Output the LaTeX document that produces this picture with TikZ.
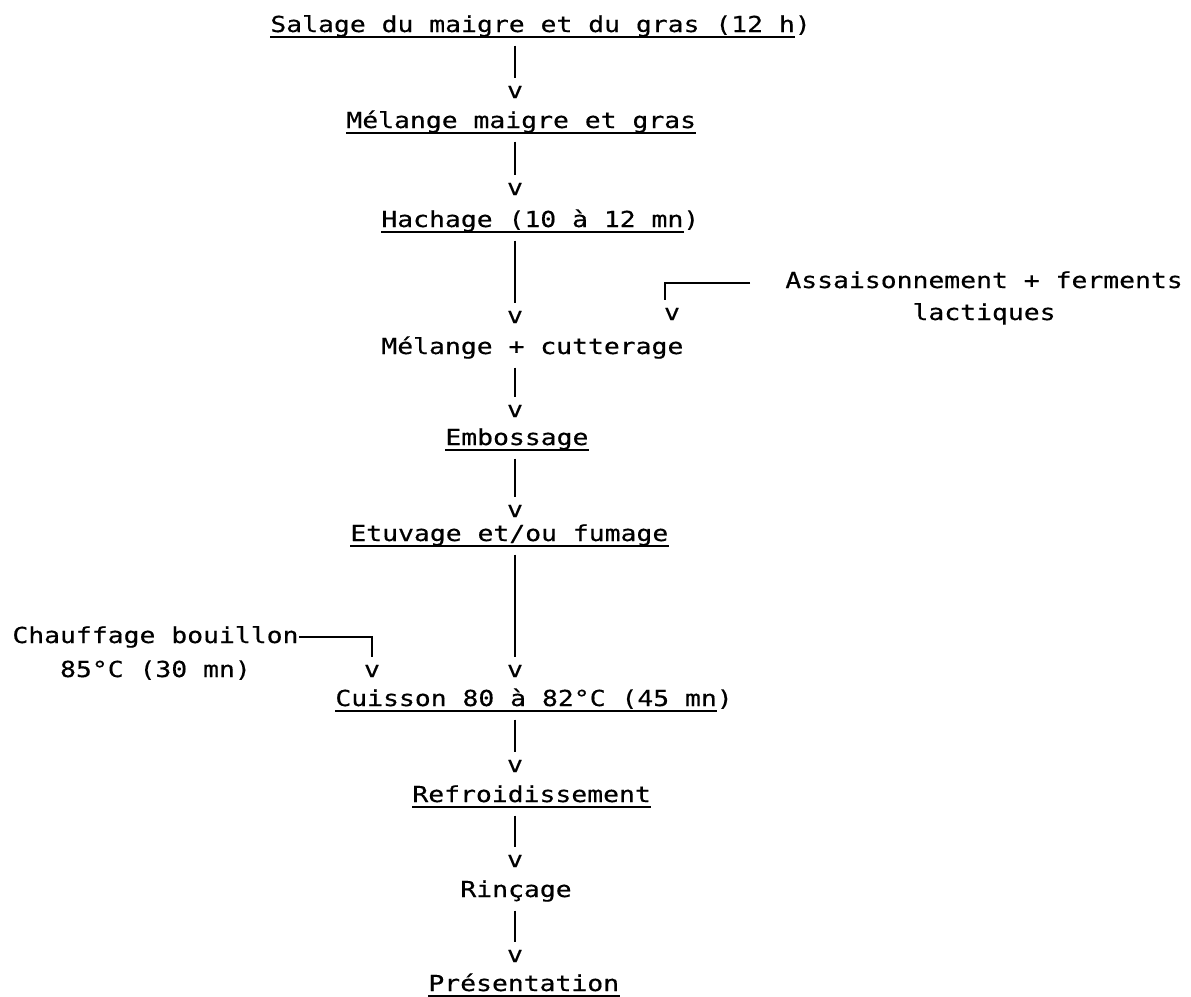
\documentclass[tikz,border=0pt]{standalone}
\usepackage{fontspec}
\newfontfamily\typew{DejaVu Sans Mono}[FakeStretch=1.2, FakeBold=0.4]
\usetikzlibrary{positioning}

\begin{document}
\begin{tikzpicture}[x=0.5pt, y=-0.5pt,
        stepnode/.style={inner sep=0pt, font=\typew\fontsize{11pt}{13pt}\selectfont, text height=8pt, text depth=2.6pt, anchor=base west},
        tip/.style={inner sep=0pt, font=\typew\fontsize{11pt}{13pt}\selectfont, anchor=base},
        flow/.style={line width=1pt, shorten <=4pt, shorten >=4pt},
        uline/.style={line width=1pt}]
        \useasboundingbox (0,0) rectangle (1191,997);

        % Main steps
        \node[stepnode] (s1) at (270,32) {Salage du maigre et du gras (12 h)};
        \node[stepnode] (s2) at (346,128) {Mélange maigre et gras};
        \node[stepnode] (s3) at (381,227) {Hachage (10 à 12 mn)};
        \node[stepnode] (s4) at (381,354) {Mélange + cutterage};
        \node[stepnode] (s5) at (445,445) {Embossage};
        \node[stepnode] (s6) at (350,541) {Etuvage et/ou fumage};
        \node[stepnode] (s7) at (335,706) {Cuisson 80 à 82°C (45 mn)};
        \node[stepnode] (s8) at (412,802) {Refroidissement};
        \node[stepnode] (s9) at (460,897) {Rinçage};
        \node[stepnode] (s10) at (428,991) {Présentation};

        % Side inputs
        \node[stepnode] (add) at (785,288) {Assaisonnement + ferments};
        \node[stepnode, anchor=base] (addb) at ([yshift=-16pt]add.base) {lactiques};
        \node[stepnode] (heat) at (12,643) {Chauffage bouillon};
        \node[stepnode, anchor=base] (heatb) at ([yshift=-17pt]heat.base) {85°C (30 mn)};

        % Arrow heads (typed v)
        \foreach \n/\y in {v1/98, v2/195, v3/323, v4/417, v5/517, v6/677, v7/772, v8/867, v9/962} {
            \node[tip] (\n) at (515,\y) {v};
        }
        \node[tip] (va) at (672,320) {v};
        \node[tip] (vh) at (372,677) {v};

        % Underlines
        \foreach \n in {s2,s5,s6,s8,s10} {
            \draw[uline] ([yshift=-2.3pt]\n.base west) -- ([yshift=-2.3pt]\n.base east);
        }
        \foreach \n in {s1,s3,s7} {
            \draw[uline] ([yshift=-2.3pt]\n.base west) -- ([yshift=-2.3pt, xshift=-7.95pt]\n.base east);
        }

        % Vertical connectors
        \foreach \a/\b in {s1/v1, s2/v2, s3/v3, s4/v4, s5/v5, s6/v6, s7/v7, s8/v8, s9/v9} {
            \draw[flow] (\b |- \a.south) -- (\b.north);
        }

        % Side connectors
        \draw[flow, shorten <=0pt] ([xshift=-17.5pt, yshift=2.5pt]add.base west) -| ([xshift=-3.5pt]va.north);
        \draw[flow, shorten <=0pt] ([yshift=3pt]heat.base east) -| (vh.north);
    \end{tikzpicture}
\end{document}
